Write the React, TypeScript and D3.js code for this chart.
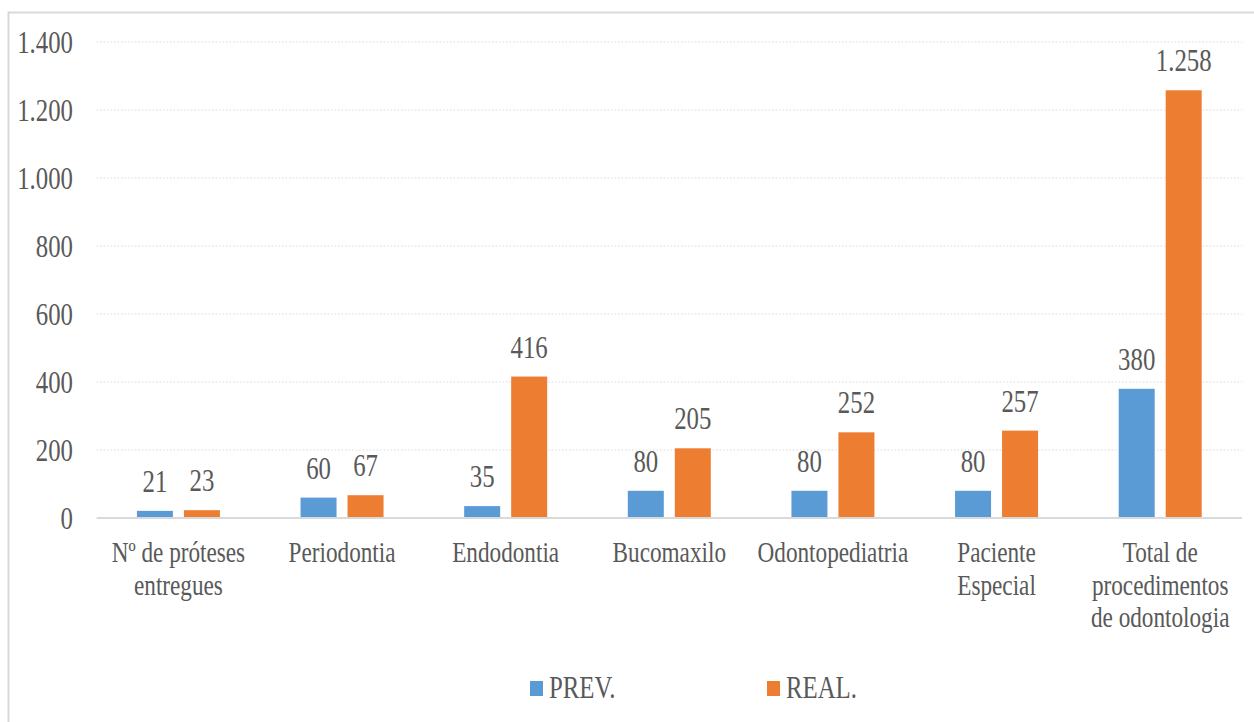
import React from "react";
import * as d3 from "d3";

const categories: string[][] = [
  ["Nº de próteses", "entregues"],
  ["Periodontia"],
  ["Endodontia"],
  ["Bucomaxilo"],
  ["Odontopediatria"],
  ["Paciente", "Especial"],
  ["Total de", "procedimentos", "de odontologia"],
];
const seriesNames = ["PREV.", "REAL."];
const prevValues = [21, 60, 35, 80, 80, 80, 380];
const realValues = [23, 67, 416, 205, 252, 257, 1258];
const yTicks = [0, 200, 400, 600, 800, 1000, 1200, 1400];
const colors = ["#5B9BD5", "#ED7D31"];

const W = 1254;
const H = 722;
const FONT = "Liberation Serif";
const SX = 0.8;
const TXT = "#595959";

const fmt = (v: number) => d3.format(",")(v).replace(/,/g, ".");

function T({ x, y, anchor = "middle", size = 31, children }: any) {
  return (
    <text
      transform={`translate(${x},${y}) scale(${SX},1)`}
      textAnchor={anchor}
      fontFamily={FONT}
      fontSize={size}
      fill={TXT}
    >
      {children}
    </text>
  );
}

export default function App() {
  const left = 96.6;
  const right = 1242;
  const y = d3.scaleLinear().domain([0, 1400]).range([518, 42]);
  const keys = categories.map((c) => c.join(" "));
  const x0 = d3.scaleBand<string>().domain(keys).range([left, right]).padding(0);
  const groupW = 83;
  const x1 = d3.scaleBand<string>().domain(seriesNames).range([0, groupW]).paddingInner(0.234).paddingOuter(0);
  const seriesData = [prevValues, realValues];

  return (
    <svg
      width={W}
      height={H}
      style={{ position: "absolute", left: 0, top: 0, background: "#fff" }}
    >
      <rect x={0} y={0} width={W} height={H} fill="#fff" />
      <rect x={8.5} y={12.5} width={1400} height={900} fill="none" stroke="#d9d9d9" strokeWidth={2} />
      {yTicks.map((t) => (
        <g key={t}>
          {t !== 0 && (
            <line
              x1={left}
              x2={right}
              y1={y(t)}
              y2={y(t)}
              stroke="#d9d9d9"
              strokeWidth={1.2}
              strokeDasharray="1.5,2"
            />
          )}
          <T x={73} y={y(t) + 10.5} anchor="end" size={31}>
            {fmt(t)}
          </T>
        </g>
      ))}
      {keys.map((k, i) => {
        const g0 = (x0(k) as number) + (x0.bandwidth() - groupW) / 2;
        return (
          <g key={k}>
            {seriesNames.map((s, j) => {
              const v = seriesData[j][i];
              const bx = g0 + (x1(s) as number);
              const bw = x1.bandwidth();
              return (
                <g key={s}>
                  <rect x={bx} y={y(v)} width={bw} height={y(0) - y(v)} fill={colors[j]} />
                  <T x={bx + bw / 2} y={y(v) - 19} size={31}>
                    {fmt(v)}
                  </T>
                </g>
              );
            })}
            {categories[i].map((line, li) => (
              <T key={li} x={(x0(k) as number) + x0.bandwidth() / 2} y={562 + li * 32.5} size={29}>
                {line}
              </T>
            ))}
          </g>
        );
      })}
      <line x1={left} x2={right} y1={518} y2={518} stroke="#d9d9d9" strokeWidth={2} />
      {seriesNames.map((s, j) => {
        const lx = j === 0 ? 530 : 767;
        return (
          <g key={s}>
            <rect x={lx} y={681} width={13} height={15} fill={colors[j]} />
            <T x={lx + 19} y={698} anchor="start" size={31}>
              {s}
            </T>
          </g>
        );
      })}
    </svg>
  );
}
